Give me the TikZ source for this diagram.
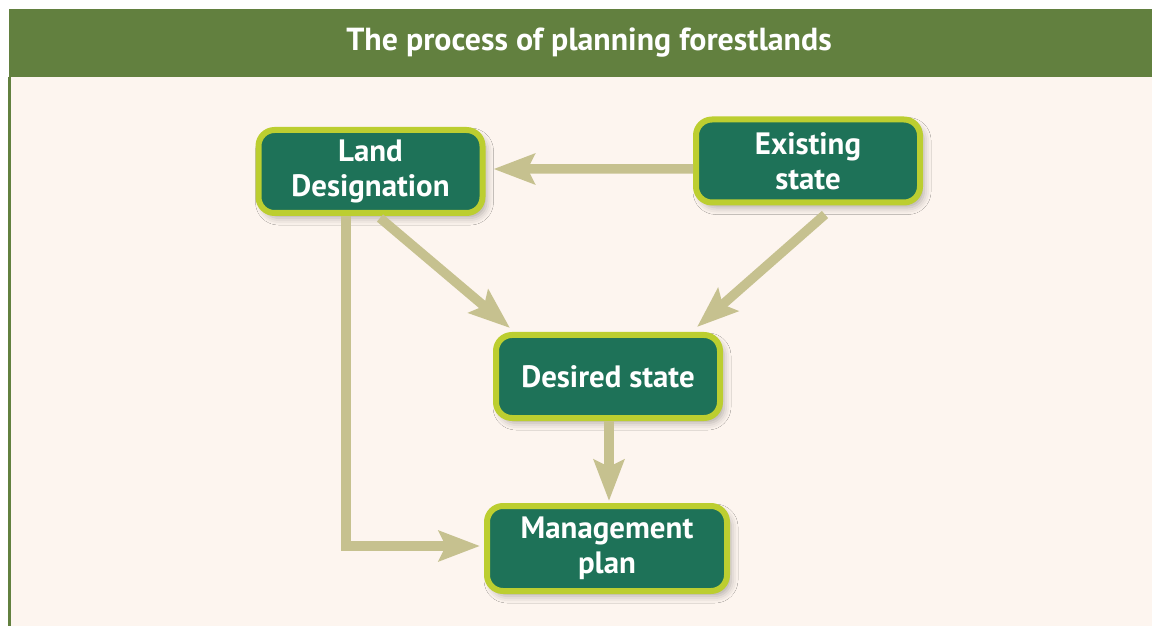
\documentclass[tikz,border=0pt]{standalone}
\usepackage{fontspec}
\setmainfont{PT Sans}
\usetikzlibrary{arrows.meta,shadows.blur}
\definecolor{hdrgreen}{HTML}{62803F}
\definecolor{creambg}{HTML}{FDF5EF}
\definecolor{boxfill}{HTML}{1E7258}
\definecolor{boxedge}{HTML}{BCCE30}
\definecolor{arrowc}{HTML}{C6C18F}
\tikzset{
  box/.style={draw=boxedge, line width=6bp, fill=boxfill, rounded corners=16bp,
    minimum width=224bp, minimum height=83bp, align=center, text=white,
    font=\bfseries\fontsize{31}{35}\selectfont, inner sep=0pt,
    blur shadow={shadow xshift=4bp, shadow yshift=-5bp, shadow blur radius=7bp, shadow opacity=30}},
  arr/.style={draw=arrowc, line width=9.5bp,
    -{Stealth[length=41bp, width=30bp, inset=7bp, fill=arrowc]}},
}
\begin{document}
\begin{tikzpicture}[x=1bp, y=-1bp]
\useasboundingbox (0,0) rectangle (1152,626);
\fill[white] (0,0) rectangle (1152,626);
\fill[creambg] (9,77) rectangle (1152,626);
\fill[hdrgreen] (9,9) rectangle (1152,77);
\fill[hdrgreen] (8,77) rectangle (11,626);
\node[text=white, font=\bfseries\fontsize{32}{36}\selectfont] (title) at (589,43) {The process of planning forestlands};

\node[box] (land) at (370.5,171.5) {Land\\Designation};
\node[box] (exist) at (808,161) {Existing\\state};
\node[box] (desired) at (608,376.5) {Desired state};
\node[box, minimum width=240bp, minimum height=85bp] (mgmt) at (607,548.5) {Management\\plan};

\draw[arr] ([yshift=-8bp]exist.west) -- ([shift={(8,-2.5)}]land.east);
\draw[arr] ([xshift=-24.5bp]land.south) |- ([shift={(-4,-2.5)}]mgmt.west);
\draw[arr] ([shift={(9.5,2)}]land.south) -- ([shift={(17,-4)}]desired.north west);
\draw[arr] ([shift={(17,9)}]exist.south) -- ([shift={(-26,-5)}]desired.north east);
\draw[arr] ([xshift=1bp]desired.south) -- ([shift={(2,-2)}]mgmt.north);
\end{tikzpicture}
\end{document}
